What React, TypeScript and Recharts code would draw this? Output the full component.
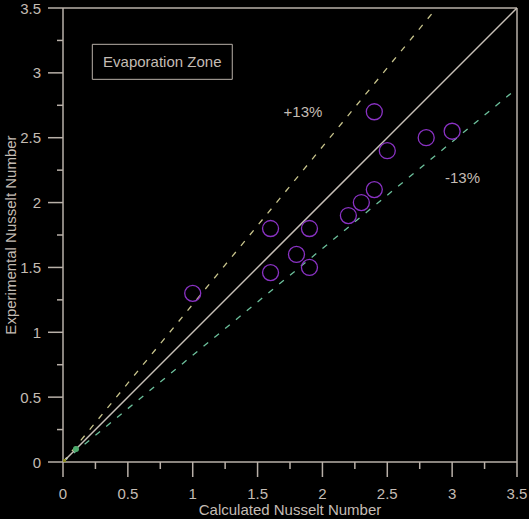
import { ComposedChart, Line, Scatter, XAxis, YAxis, ReferenceLine, ReferenceArea, ReferenceDot, Label } from "recharts";

// measured points (calculated, experimental)
const calcNu = [1.0, 1.6, 1.6, 1.8, 1.9, 1.9, 2.2, 2.3, 2.4, 2.4, 2.5, 2.8, 3.0];
const expNu = [1.3, 1.8, 1.46, 1.6, 1.8, 1.5, 1.9, 2.0, 2.1, 2.7, 2.4, 2.5, 2.55];

// reference lines
const parityLine = [{ x: 0, y: 0 }, { x: 3.5, y: 3.5 }];
const plusLine = [{ x: 0, y: 0 }, { x: 2.88, y: 3.5 }];
const minusLine = [{ x: 0, y: 0 }, { x: 3.5, y: 2.88 }];
const startMarker = [{ x: 0, y: 0 }];
const endMarker = [{ x: 0.1, y: 0.1 }];

const majorTicks = [0, 0.5, 1, 1.5, 2, 2.5, 3, 3.5];
const minorTicks = [0.25, 0.75, 1.25, 1.75, 2.25, 2.75, 3.25];
const allTicks = [...majorTicks, ...minorTicks].sort((a, b) => a - b);

const points = calcNu.map((x, i) => ({ x, y: expNu[i] }));

const AXIS = "#b8b0a8";
const TEXT = "#c4bcb4";
const FONT = "'Liberation Sans', Arial, sans-serif";
const FS = 15;

const isMajor = (v: number) => majorTicks.includes(v);

const XTick = (props: any) => {
  const { x, y, payload } = props;
  const major = isMajor(payload.value);
  return (
    <g>
      <line x1={x} x2={x} y1={y} y2={y + (major ? 15 : 7)} stroke={AXIS} strokeWidth={1.5} />
      {major && (
        <text x={x} y={y + 37} textAnchor="middle" fill={TEXT} fontSize={FS} fontFamily={FONT}>
          {String(payload.value)}
        </text>
      )}
    </g>
  );
};

const YTick = (props: any) => {
  const { x, y, payload } = props;
  const major = isMajor(payload.value);
  return (
    <g>
      <line x1={x} x2={x - (major ? 15 : 6)} y1={y} y2={y} stroke={AXIS} strokeWidth={1.5} />
      {major && (
        <text x={x - 22} y={y + 5.5} textAnchor="end" fill={TEXT} fontSize={FS} fontFamily={FONT}>
          {String(payload.value)}
        </text>
      )}
    </g>
  );
};

const Ring = (props: any) => (
  <circle cx={props.cx} cy={props.cy} r={8} fill="none" stroke="#8a32c4" strokeWidth={1.3} />
);

const labelStyle = { fill: TEXT, fontSize: FS, fontFamily: FONT };

export default function App() {
  return (
    <div style={{ position: "absolute", left: 0, top: 0, width: 529, height: 519, background: "#000" }}>
      <ComposedChart width={529} height={519} margin={{ top: 8, right: 12, left: 0, bottom: 0 }}>
        <XAxis
          type="number"
          dataKey="x"
          domain={[0, 3.5]}
          ticks={allTicks}
          interval={0}
          allowDataOverflow
          height={57}
          tickSize={0}
          tickMargin={0}
          tick={<XTick />}
          axisLine={{ stroke: AXIS, strokeWidth: 1.5 }}
        >
          <Label value="Calculated Nusselt Number" position="center" dy={19} {...labelStyle} />
        </XAxis>
        <YAxis
          type="number"
          dataKey="y"
          domain={[0, 3.5]}
          ticks={allTicks}
          interval={0}
          allowDataOverflow
          width={63}
          tickSize={0}
          tickMargin={0}
          tick={<YTick />}
          axisLine={{ stroke: AXIS, strokeWidth: 1.5 }}
        >
          <Label value="Experimental Nusselt Number" position="center" angle={-90} dx={-21} {...labelStyle} />
        </YAxis>
        <ReferenceLine y={3.5} stroke={AXIS} strokeWidth={1.5} />
        <ReferenceLine x={3.5} stroke={AXIS} strokeWidth={1.5} />
        <ReferenceArea
          x1={0.226}
          x2={1.305}
          y1={2.95}
          y2={3.22}
          fill="none"
          stroke={AXIS}
          strokeWidth={1}
          label={{ value: "Evaporation Zone", position: "center", ...labelStyle }}
        />
        <ReferenceDot x={1.85} y={2.7} r={0} stroke="none" label={{ value: "+13%", position: "center", ...labelStyle }} />
        <ReferenceDot x={3.08} y={2.19} r={0} stroke="none" label={{ value: "-13%", position: "center", ...labelStyle }} />
        <Line data={plusLine} dataKey="y" stroke="#c8c48c" strokeWidth={1.3} strokeDasharray="6 8" dot={false} isAnimationActive={false} />
        <Line data={minusLine} dataKey="y" stroke="#6cc09c" strokeWidth={1.3} strokeDasharray="6 8" dot={false} isAnimationActive={false} />
        <Line data={parityLine} dataKey="y" stroke="#c8c0b8" strokeWidth={1.5} dot={false} isAnimationActive={false} />
        <Scatter data={startMarker} shape={(p: any) => <rect x={p.cx - 3} y={p.cy - 3} width={6} height={6} fill="#8c8c28" />} isAnimationActive={false} />
        <Scatter data={endMarker} shape={(p: any) => <circle cx={p.cx} cy={p.cy} r={3} fill="#4caa6c" />} isAnimationActive={false} />
        <Scatter data={points} shape={<Ring />} isAnimationActive={false} />
      </ComposedChart>
    </div>
  );
}
